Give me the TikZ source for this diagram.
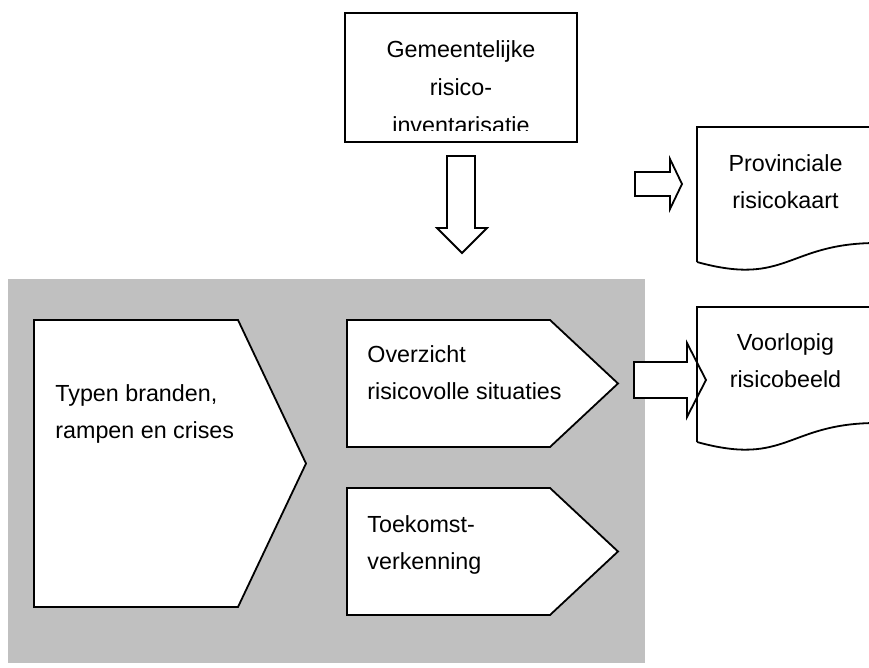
\documentclass[tikz,border=0pt]{standalone}
\usepackage{fontspec}
\setmainfont{Liberation Sans}
\definecolor{panel}{RGB}{192,192,192}
\begin{document}
\begin{tikzpicture}[x=0.5pt,y=-0.5pt,
  shp/.style={draw=black,line width=0.9pt,fill=white,line join=miter},
  outl/.style={draw=black,line width=0.9pt},
  txt/.style={inner sep=0pt,font=\fontsize{11.65}{18.75}\selectfont},
]
\useasboundingbox (0,0) rectangle (869,668);
% grey panel
\fill[panel] (8,279) rectangle (645,663);
% top box
\draw[shp] (345,13) rectangle (577,142);
\begin{scope}
  \clip (345,13) rectangle (577,131);
  \node[txt,anchor=base] (g1) at (461,58) {Gemeentelijke};
  \node[txt,anchor=base] (g2) at (461,96) {risico-};
  \node[txt,anchor=base] (g3) at (461,134) {inventarisatie};
\end{scope}
% down block arrow
\draw[shp] (447,156) -- (475,156) -- (475,228) -- (487,228) -- (462,253)
  -- (437,228) -- (447,228) -- cycle;
% right block arrow 1
\draw[shp] (635,172) -- (670,172) -- (670,159) -- (682,184) -- (670,209)
  -- (670,196) -- (635,196) -- cycle;
% right block arrow 2
\draw[shp] (634,362) -- (687,362) -- (687,343) -- (706,380) -- (687,417)
  -- (687,398) -- (634,398) -- cycle;
% documents
\draw[outl] (697,262) -- (697,127) -- (877,127) -- (877,243)
  .. controls (787,243) and (787,287) .. (697,262);
\draw[outl] (697,442) -- (697,307) -- (877,307) -- (877,423)
  .. controls (787,423) and (787,467) .. (697,442);
\node[txt,anchor=base] (p1) at (785.5,172) {Provinciale};
\node[txt,anchor=base] (p2) at (785.5,209) {risicokaart};
\node[txt,anchor=base] (v1) at (785.5,351) {Voorlopig};
\node[txt,anchor=base] (v2) at (785.5,388) {risicobeeld};
% pentagons
\draw[shp] (34,320) -- (238,320) -- (306,463.5) -- (238,607) -- (34,607) -- cycle;
\draw[shp] (347,320) -- (550,320) -- (618,383.5) -- (550,447) -- (347,447) -- cycle;
\draw[shp] (347,488) -- (550,488) -- (618,551.5) -- (550,615) -- (347,615) -- cycle;
\node[txt,anchor=base west] (t1) at (55,402) {Typen branden,};
\node[txt,anchor=base west] (t2) at (55,439) {rampen en crises};
\node[txt,anchor=base west] (o1) at (367,363) {Overzicht};
\node[txt,anchor=base west] (o2) at (367,400) {risicovolle situaties};
\node[txt,anchor=base west] (k1) at (367,533) {Toekomst-};
\node[txt,anchor=base west] (k2) at (367,570) {verkenning};
\end{tikzpicture}
\end{document}
